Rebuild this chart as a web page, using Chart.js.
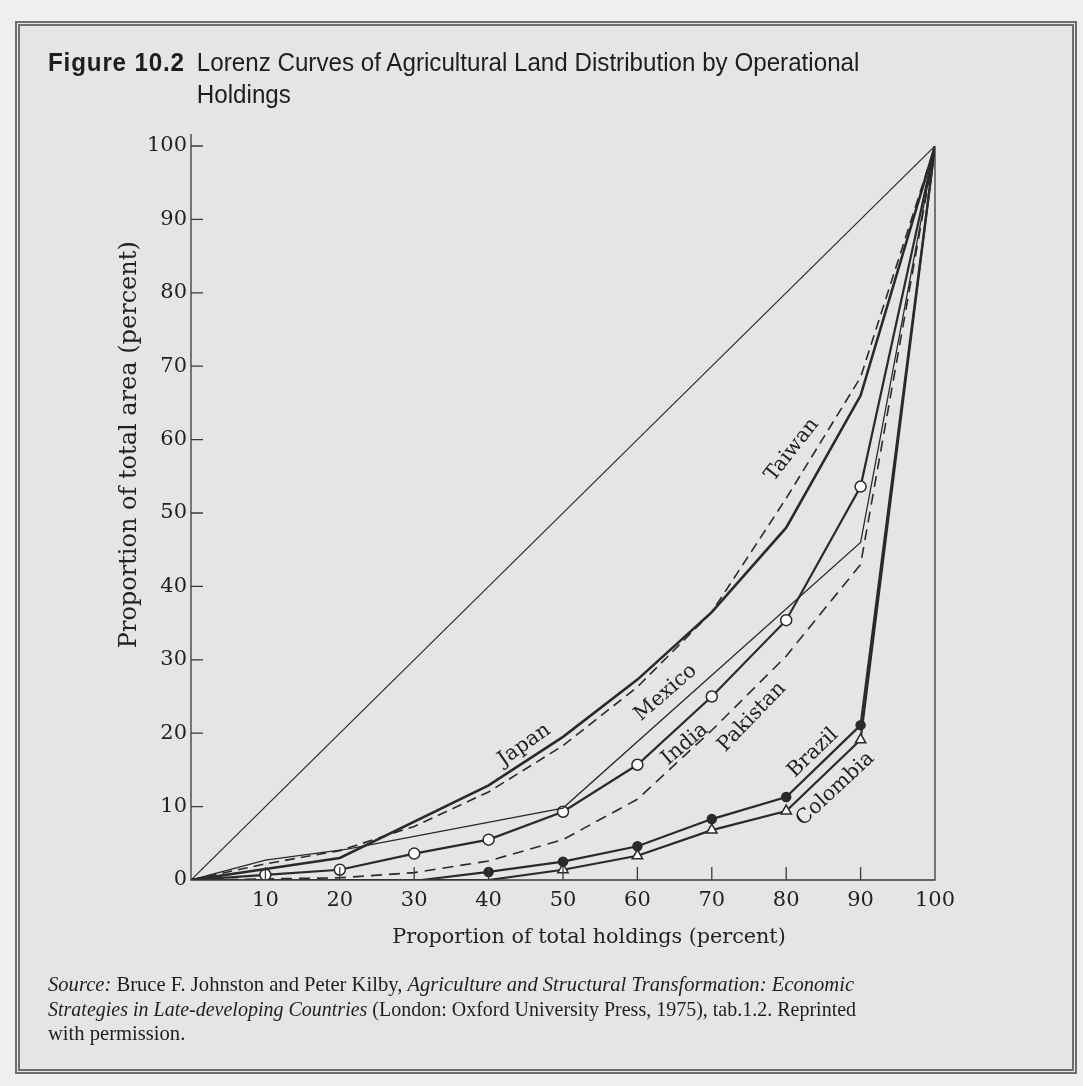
<!DOCTYPE html>
<html>
<head>
<meta charset="utf-8">
<script src="https://cdn.jsdelivr.net/npm/chart.js@4.4.1/dist/chart.umd.min.js"></script>
<style>
  html, body { margin: 0; padding: 0; }
  body { width: 1083px; height: 1086px; background: #efefef; position: relative; overflow: hidden; }
  .frame { position: absolute; left: 15px; top: 21px; width: 1052px; height: 1043px; border: 5px double #6e6e6e; background: #e5e5e5; }
  canvas { position: absolute; left: 0; top: 0; }
  .title { position: absolute; left: 48px; top: 46px; font-family: "Liberation Sans Narrow", "Liberation Sans", Arial, sans-serif; font-size: 26px; line-height: 32px; color: #1e1e1e; white-space: nowrap; transform: scaleX(0.93); transform-origin: 0 0; }
  .title b { display: inline-block; width: 160px; letter-spacing: 0.9px; }
  .source { position: absolute; left: 48px; top: 972px; font-family: "Liberation Serif", serif; font-size: 20.6px; line-height: 24.5px; color: #1e1e1e; white-space: nowrap; }
  .source span { display: inline-block; transform-origin: 0 0; }
</style>
</head>
<body>
<div class="frame"></div>
<canvas id="chart" width="1083" height="1086"></canvas>
<div class="title"><b>Figure 10.2</b>Lorenz Curves of Agricultural Land Distribution by Operational<br><span style="margin-left:160px">Holdings</span></div>
<div class="source"><span><i>Source:</i> Bruce F. Johnston and Peter Kilby, <i>Agriculture and Structural Transformation: Economic</i></span><br><span style="transform: scaleX(0.971)"><i>Strategies in Late-developing Countries</i> (London: Oxford University Press, 1975), tab.1.2. Reprinted</span><br><span>with permission.</span></div>
<script>
// cumulative share of holdings (x) vs cumulative share of area (y), percent
const equalityX = [0, 100];
const equalityY = [0, 100];
const japanX = [0, 20, 40, 50, 60, 70, 80, 90, 100];
const japanY = [0, 3, 12.9, 19.5, 27.3, 36.5, 48, 66, 100];
const taiwanX = [0, 10, 20, 30, 40, 50, 60, 70, 80, 90, 100];
const taiwanY = [0, 2.2, 4, 7.3, 12, 18.3, 26.3, 36.5, 52, 68.5, 100];
const mexicoX = [0, 10, 21, 50, 90, 100];
const mexicoY = [0, 2.7, 4.2, 9.8, 46, 100];
const indiaX = [0, 10, 20, 30, 40, 50, 60, 70, 80, 90, 100];
const indiaY = [0, 0.7, 1.4, 3.6, 5.5, 9.3, 15.7, 25, 35.4, 53.6, 100];
const pakistanX = [0, 20, 30, 40, 50, 60, 70, 80, 90, 100];
const pakistanY = [0, 0.3, 1, 2.6, 5.5, 11, 20.4, 30.5, 43, 100];
const brazilX = [0, 31, 40, 50, 60, 70, 80, 90, 100];
const brazilY = [0, 0, 1.1, 2.5, 4.6, 8.3, 11.3, 21.1, 100];
const colombiaX = [0, 40, 50, 60, 70, 80, 90, 100];
const colombiaY = [0, 0, 1.4, 3.3, 6.8, 9.4, 19.1, 100];
const tickValues = [10, 20, 30, 40, 50, 60, 70, 80, 90, 100];

// curve names written along the lines: [text, x, y, angle]
const curveLabels = [
  ['Japan', 44.8, 18.4, -35],
  ['Mexico', 63.8, 25.5, -41],
  ['India', 66.4, 18.5, -40],
  ['Pakistan', 75.4, 22.2, -46],
  ['Brazil', 83.6, 17.3, -44],
  ['Colombia', 86.6, 12.4, -43],
  ['Taiwan', 80.8, 58.6, -52],
];
const xTitle = 'Proportion of total holdings (percent)';
const yTitle = 'Proportion of total area (percent)';

const INK = '#2a2a2a';
const SERIF = '"DejaVu Serif", serif';
const pts = (xs, ys) => xs.map((x, i) => ({ x, y: ys[i] }));
// marker only where the source draws one
const marks = (xs, from, to, r) => xs.map((_, i) => (i >= from && i <= to ? r : 0));

const frameAxes = {
  id: 'frameAxes',
  afterDatasetsDraw(chart) {
    const { ctx, scales: { x, y } } = chart;
    const x0 = x.getPixelForValue(0), x1 = x.getPixelForValue(100);
    const y0 = y.getPixelForValue(0), y1 = y.getPixelForValue(100);
    ctx.save();
    ctx.strokeStyle = '#3a3a3a';
    ctx.lineWidth = 1.3;
    ctx.beginPath();
    ctx.moveTo(x0, y1 - 12); ctx.lineTo(x0, y0);
    ctx.lineTo(x1, y0); ctx.lineTo(x1, y1);
    tickValues.forEach(v => {
      const py = y.getPixelForValue(v);
      ctx.moveTo(x0, py); ctx.lineTo(x0 + 12, py);
      if (v < 100) {
        const px = x.getPixelForValue(v);
        ctx.moveTo(px, y0); ctx.lineTo(px, y0 - 13);
      }
    });
    ctx.stroke();

    ctx.fillStyle = '#222';
    ctx.textAlign = 'center';
    ctx.textBaseline = 'middle';
    ctx.font = '20.5px ' + SERIF;
    curveLabels.forEach(([t, lx, ly, a]) => {
      ctx.save();
      ctx.translate(x.getPixelForValue(lx), y.getPixelForValue(ly));
      ctx.rotate(a * Math.PI / 180);
      ctx.fillText(t, 0, 0);
      ctx.restore();
    });

    // axis titles, set off-centre as in the print
    ctx.font = '20.7px ' + SERIF;
    ctx.fillText(xTitle, x.getPixelForValue(53.5), y0 + 58);
    ctx.save();
    ctx.font = '24px ' + SERIF;
    ctx.translate(x0 - 61, y.getPixelForValue(59.3));
    ctx.rotate(-Math.PI / 2);
    ctx.fillText(yTitle, 0, 0);
    ctx.restore();
    ctx.restore();
  }
};

const line = (data, opts) => Object.assign({
  data, showLine: true, borderColor: INK, borderWidth: 2.2, pointRadius: 0,
  pointBorderColor: INK, pointBackgroundColor: '#ffffff', pointBorderWidth: 1.5, tension: 0,
}, opts);

new Chart(document.getElementById('chart'), {
  type: 'scatter',
  data: {
    datasets: [
      line(pts(equalityX, equalityY), { borderWidth: 1.2 }),
      line(pts(japanX, japanY), { borderWidth: 2.6 }),
      line(pts(taiwanX, taiwanY), { borderWidth: 1.6, borderDash: [10, 6] }),
      line(pts(mexicoX, mexicoY), { borderWidth: 1.3 }),
      line(pts(indiaX, indiaY), { pointRadius: marks(indiaX, 1, 9, 5.5) }),
      line(pts(pakistanX, pakistanY), { borderWidth: 1.6, borderDash: [11, 7] }),
      line(pts(brazilX, brazilY), { pointRadius: marks(brazilX, 2, 7, 4.5), pointBackgroundColor: INK }),
      line(pts(colombiaX, colombiaY), { pointStyle: 'triangle', pointRadius: marks(colombiaX, 2, 6, 6) }),
    ]
  },
  options: {
    responsive: false,
    animation: false,
    layout: { padding: { left: 110, right: 148, top: 146, bottom: 132 } },
    plugins: { legend: { display: false }, tooltip: { enabled: false } },
    scales: {
      x: {
        type: 'linear', min: 0, max: 100,
        grid: { display: false, drawTicks: false }, border: { display: false },
        ticks: { stepSize: 10, color: '#222', padding: 8, font: { family: 'DejaVu Serif', size: 21 },
          callback: v => (v === 0 ? '' : v) },
        afterFit: s => { s.height = 74; },
      },
      y: {
        type: 'linear', min: 0, max: 100,
        grid: { display: false, drawTicks: false }, border: { display: false },
        ticks: { stepSize: 10, color: '#222', padding: 4, font: { family: 'DejaVu Serif', size: 21 } },
        afterFit: s => { s.width = 81; },
      }
    }
  },
  plugins: [frameAxes]
});
</script>
</body>
</html>
